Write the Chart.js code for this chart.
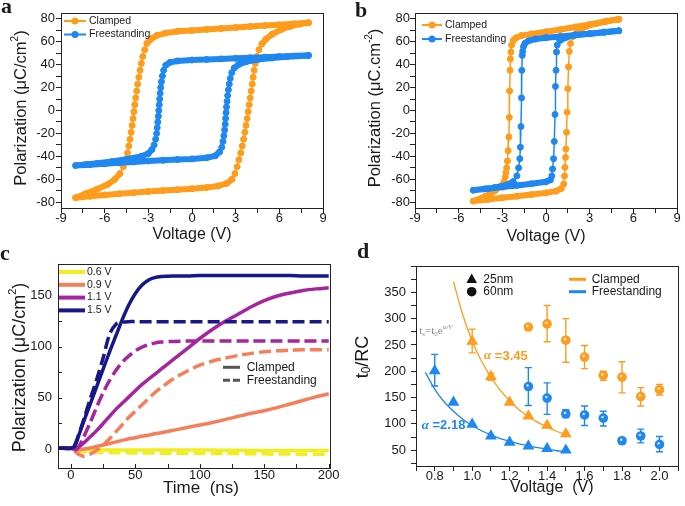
<!DOCTYPE html>
<html lang="en">
<head>
<meta charset="UTF-8">
<title>Clamped vs freestanding switching</title>
<script src="https://cdn.jsdelivr.net/npm/chart.js@4.4.1/dist/chart.umd.min.js"></script>
<style>
  body { margin:0; background:#fff; width:685px; height:506px; position:relative; overflow:hidden; }
  canvas { position:absolute; }
  .lab { position:absolute; font: bold 22px 'Liberation Serif', 'Times New Roman', serif; line-height:22px; color:#1a1a1a; }
</style>
</head>
<body>
<canvas id="ca" width="342" height="250" style="left:0;top:0"></canvas>
<canvas id="cb" width="343" height="250" style="left:342px;top:0"></canvas>
<canvas id="cc" width="342" height="256" style="left:0;top:250px"></canvas>
<canvas id="cd" width="343" height="256" style="left:342px;top:250px"></canvas>
<div class="lab" style="left:1px;top:-5px">a</div>
<div class="lab" style="left:355px;top:-1px">b</div>
<div class="lab" style="left:0px;top:242px">c</div>
<div class="lab" style="left:357px;top:240px">d</div>
<script>
// ---- panel a : P-V loops, 8 V sweep ----
var aClampV = [8,7,6,5,4,3,2,1,0,-1,-1.8,-2.4,-2.8,-3.1,-3.25,-3.38,-3.48,-3.57,-3.65,-3.73,-3.8,-3.87,-3.93,-3.99,-4.05,-4.11,-4.18,-4.26,-4.34,-4.43,-4.55,-4.72,-4.95,-5.3,-5.8,-6.5,-7.3,-8,
  -7,-6,-5,-4,-3,-2,-1,0,1,1.8,2.4,2.75,2.95,3.1,3.22,3.35,3.45,3.55,3.63,3.71,3.79,3.86,3.93,4.0,4.07,4.14,4.2,4.27,4.34,4.45,4.6,4.8,5.1,5.5,6.1,6.8,7.4,8];
var aClampP = [76.5,75.6,74.8,74,73.2,72.3,71.5,70.7,69.8,69,67.5,65.5,62.5,58.5,53,47,41,35,29,23,17,11,5,-1,-7,-13,-19,-25,-31,-37,-43,-49,-55,-60,-64.5,-68.5,-72.5,-76,
  -74.8,-73.6,-72.6,-71.6,-70.7,-69.8,-69,-68.2,-67.2,-65.8,-63.5,-60,-55,-49,-43,-37,-31,-25,-19,-13,-7,-1,5,11,17,23,29,35,41,47,53,58,62.5,66.5,70.5,73.5,75.3,76.5];
var aFreeV = [8,7,6,5,4,3,2,1,0,-1,-1.5,-1.8,-1.95,-2.03,-2.1,-2.15,-2.19,-2.22,-2.25,-2.28,-2.31,-2.35,-2.39,-2.43,-2.5,-2.6,-2.75,-3,-3.5,-4.5,-5.5,-6.5,-7.3,-8,
  -7,-6,-5,-4,-3,-2,-1,0,1,1.6,1.9,2.05,2.13,2.19,2.24,2.28,2.31,2.34,2.37,2.41,2.45,2.5,2.56,2.63,2.73,2.9,3.2,3.7,4.5,5.5,6.5,7.3,8];
var aFreeP = [48,47.5,47,46.5,46,45.5,45,44.5,44,43.2,42,39.5,35,30,25,20,15,10,5,0,-5,-10,-15,-20,-25,-30,-34,-37.5,-40,-42.5,-44.5,-46,-47,-48,
  -47.2,-46.4,-45.6,-44.8,-44,-43.4,-42.8,-42.2,-41.2,-39.5,-36,-32,-27,-22,-17,-12,-7,-2,3,8,13,18,23,28,33,37,40,42.5,44.5,45.8,46.8,47.5,48];

// ---- panel b : P-V loops, 5 V sweep ----
var bClampV = [5,4,3,2,1,0,-1,-1.7,-2.05,-2.25,-2.36,-2.41,-2.45,-2.47,-2.5,-2.52,-2.55,-2.6,-2.65,-2.7,-2.75,-2.8,-2.87,-3.1,-3.5,-4.2,-5,
  -4,-3,-2,-1,0,0.7,1.05,1.22,1.27,1.3,1.34,1.37,1.41,1.45,1.5,1.55,1.6,1.68,1.85,2.2,2.8,3.5,4.2,5];
var bClampP = [79.5,77.3,75,72.8,70.6,68.6,66.8,65.3,63.5,61,57,51,45,35,17,-6,-23,-35,-44,-50,-54,-58,-62,-66,-70,-75,-79,
  -77.5,-76,-74.7,-73.3,-71.8,-70.3,-68,-64,-57,-49.6,-41,-33.6,-19,-1.5,19,38,51.5,58.4,64.5,69.5,73.5,76,78,79.5];
var bFreeV = [5,4,3,2,1,0,-0.7,-1.2,-1.45,-1.55,-1.6,-1.63,-1.66,-1.68,-1.72,-1.76,-1.8,-1.88,-2,-2.25,-2.8,-3.5,-4.2,-5,
  -4,-3,-2,-1,0,0.3,0.4,0.45,0.52,0.57,0.62,0.65,0.69,0.72,0.77,0.95,1.4,2,3,4,5];
var bFreeP = [69.5,68.3,67,65.8,64.6,63.4,62.3,60.8,58.5,55.5,51.5,48,35,11,-14,-32,-42,-50,-57,-62,-65.3,-67,-68.3,-69.5,
  -68.2,-66.8,-65.3,-63.8,-62.2,-60.5,-57,-51,-42,-27,-3.5,21,35,51,57,61,63.8,65.8,67,68.3,69.5];
var abXTicks = [-9,-7.5,-6,-4.5,-3,-1.5,0,1.5,3,4.5,6,7.5,9];
var abYTicks = [-80,-70,-60,-50,-40,-30,-20,-10,0,10,20,30,40,50,60,70,80];

// ---- panel c : switching transients ----
var cTime = [-10,0,3,6,10,15,20,25,30,35,40,45,50,55,60,65,70,80,90,100,110,120,130,140,150,160,170,180,190,200];
var c15Clamped = [1,1,3,13,27,44,61,78,95,111,127,141,152,160,165,167.5,168.5,169,169,169.5,169.5,169.5,169.5,169.5,169.5,169.5,169.5,169,169,169];
var c15Free    = [1,1,4,14,29,49,68,89,112,122,124,124.5,124.5,124.5,124.5,124.5,124.5,124.5,124.5,124.5,124.5,124.5,124.5,124.5,124.5,124.5,124.5,124.5,124.5,124.5];
var c11Clamped = [1,0.5,0,2,6,12,18,25,32,39,45,51,57,63,68,73,78,88,98,108,117,125,132,139,145,149.5,152.5,155,156.5,157.5];
var c11Free    = [1,0.5,-1,2,12,26,41,55,67,77,85,91,96,99.5,102,103.5,104.5,105.2,105.5,105.5,105.5,105.5,105.5,105.5,105.5,105.5,105.5,105.5,105.5,105.5];
var c09Clamped = [1,0.5,0,-0.5,0,1,2.5,4,5.5,7,8.5,10,11,12.5,13.5,15,16,18.5,21,23.5,26,29,32,35,37.5,40.5,44,47.5,51,54];
var c09Free    = [1,0.5,-2,-5,-7,-5,-1,4,10,17,24,31,37,43,49,55,60,69,76,82,86,89,91.5,93.5,95,96,96.5,97,97,97];
var c06Clamped = [1,1,0,-0.5,-1,-1,-1,-1,-1,-1,-1,-1,-1,-1,-1,-1,-1,-1,-1,-1,-1,-1.2,-1.2,-1.3,-1.3,-1.4,-1.5,-1.5,-1.5,-1.5];
var c06Free    = [1,0.5,-1,-2,-2.5,-3,-3,-3.2,-3.4,-3.5,-3.6,-3.7,-3.8,-3.8,-3.9,-3.9,-4,-4,-4.1,-4.2,-4.3,-4.4,-4.5,-4.6,-4.7,-4.8,-4.9,-5,-5.1,-5.2];
var cLabels = ['0.6 V', '0.9 V', '1.1 V', '1.5 V'];
var cXTicks = [0,25,50,75,100,125,150,175,200];
var cYTicks = [0,25,50,75,100,125,150,175];

// ---- panel d : t0/RC vs voltage ----
var dClamp25V = [1.0,1.1,1.2,1.3,1.4,1.5];
var dClamp25  = [257,190,141,115,97,81];
var dClamp25Lo = [235,183,null,null,null,null];
var dClamp25Hi = [280,196,null,null,null,null];
var dFree25V = [0.8,0.9,1.0,1.1,1.2,1.3,1.4,1.5];
var dFree25  = [201,141,99,77,65,58,53,50];
var dFree25Lo = [172,null,null,null,null,null,null,null];
var dFree25Hi = [232,null,null,null,null,null,null,null];
var d60V = [1.3,1.4,1.5,1.6,1.7,1.8,1.9,2.0];
var dClamp60   = [284,290,259,227,192,189,152,165];
var dClamp60Lo = [null,256,217,205,183,159,134,155];
var dClamp60Hi = [null,325,300,249,200,218,169,175];
var dFree60    = [171,149,119,117,111,68,77,61];
var dFree60Lo  = [135,118,112,97,96,null,64,47];
var dFree60Hi  = [207,178,127,134,124,null,90,76];
var dFitClampV = [0.9,0.95,1.0,1.05,1.1,1.15,1.2,1.25,1.3,1.35,1.4,1.45,1.5];
var dFitClamp  = [370,307,257,219,189,164,144,127,114,103,94,86,80];
var dFitFreeV  = [0.75,0.8,0.85,0.9,0.95,1.0,1.05,1.1,1.15,1.2,1.25,1.3,1.35,1.4,1.45,1.5];
var dFitFree   = [198,166,142,124,109,97,87,79,72,67,62,58,55,52,49,47];
var dXTicks = [0.7,0.8,0.9,1.0,1.1,1.2,1.3,1.4,1.5,1.6,1.7,1.8,1.9,2.0,2.1];
var dYTicks = [25,50,75,100,125,150,175,200,225,250,275,300,325,350,375,400];

var ORANGE = '#ff9c1c', BLUE = '#1e88f0';
var YEL = '#eeee22', CORAL = '#f47f5a', PURP = '#a6259f', NAVY = '#17178a';
var SANS = "'Liberation Sans', Arial, sans-serif";
var SERIF = "'Liberation Serif', 'Times New Roman', serif";
var INK = '#1a1a1a';

Chart.defaults.font.family = SANS;
Chart.defaults.color = INK;
Chart.defaults.animation = false;
Chart.defaults.responsive = false;
Chart.defaults.plugins.legend.display = false;
Chart.defaults.plugins.tooltip.enabled = false;

// box round the plot area
Chart.register({
  id: 'frame',
  afterDatasetsDraw: function(chart) {
    var a = chart.chartArea, c = chart.ctx;
    c.save();
    c.strokeStyle = '#222'; c.lineWidth = 1;
    c.strokeRect(Math.round(a.left) + 0.5, Math.round(a.top) + 0.5, Math.round(a.right - a.left), Math.round(a.bottom - a.top));
    c.restore();
  }
});

function pts(xs, ys) { return xs.map(function(x, i) { return {x: x, y: ys[i]}; }); }

// text made of pieces (sub / superscripts), centred or left aligned, optionally turned 90deg
function rich(c, parts, x, y, rot, left, color) {
  c.save();
  c.translate(x, y);
  if (rot) c.rotate(-Math.PI / 2);
  c.fillStyle = color || INK;
  c.textBaseline = 'middle';
  var w = 0;
  parts.forEach(function(p) { c.font = p[1]; w += c.measureText(p[0]).width; });
  var cx = left ? 0 : -w / 2;
  parts.forEach(function(p) { c.font = p[1]; c.fillText(p[0], cx, p[2] || 0); cx += c.measureText(p[0]).width; });
  c.restore();
}

// o: {min, max, ticks, major, fmt, size, pad, inward}
function axis(o) {
  return {
    type: 'linear', min: o.min, max: o.max,
    border: { display: false },
    grid: { drawOnChartArea: false, drawTicks: !o.inward, tickLength: 5, tickColor: '#222', tickWidth: 1 },
    ticks: { autoSkip: false, maxRotation: 0, padding: o.pad, font: { size: 13 }, color: INK,
             callback: function(v) { return o.major(v) ? o.fmt(v) : ''; } },
    afterBuildTicks: function(s) { s.ticks = o.ticks.map(function(v) { return {value: v}; }); },
    afterFit: function(s) { if (s.isHorizontal()) s.height = o.size; else s.width = o.size; }
  };
}
function every(n) { return function(v) { return Math.abs(Math.round(v / n) * n - v) < 1e-6; }; }
function plain(v) { return String(Math.round(v * 100) / 100); }

function loopSet(V, P, color) {
  return {
    data: pts(V, P), showLine: true,
    borderColor: color, backgroundColor: color,
    pointRadius: 3, pointBorderWidth: 1, pointBorderColor: color, pointBackgroundColor: color,
    borderWidth: 6, borderJoinStyle: 'round', borderCapStyle: 'round',
    segment: { borderWidth: function(s) {
      var dx = Math.abs(s.p1.x - s.p0.x), dy = Math.abs(s.p1.y - s.p0.y);
      return dy > 1.5 * dx ? 1.5 : 6;
    } }
  };
}

function loopLegend(c, x0, x1, y, color, label) {
  c.save();
  c.strokeStyle = color; c.lineWidth = 2;
  c.beginPath(); c.moveTo(x0, y); c.lineTo(x1, y); c.stroke();
  c.fillStyle = color;
  c.beginPath(); c.arc((x0 + x1) / 2, y, 3.5, 0, 2 * Math.PI); c.fill();
  c.fillStyle = INK; c.font = '10.5px ' + SANS; c.textBaseline = 'middle';
  c.fillText(label, x1 + 3, y);
  c.restore();
}

function loopChart(id, cv, cp, fv, fp, yw, ypad, rightPad, deco) {
  return new Chart(document.getElementById(id), {
    type: 'scatter',
    data: { datasets: [loopSet(fv, fp, BLUE), loopSet(cv, cp, ORANGE)] },
    options: {
      layout: { padding: { left: 0, top: 13, right: rightPad, bottom: 0 } },
      scales: {
        x: axis({min: -9, max: 9, ticks: abXTicks, major: every(3), fmt: plain, size: 42, pad: -2}),
        y: axis({min: -85, max: 85, ticks: abYTicks, major: every(20), fmt: plain, size: yw, pad: ypad})
      }
    },
    plugins: [{ id: 'deco' + id, afterDraw: deco }]
  });
}

// ---------- a ----------
loopChart('ca', aClampV, aClampP, aFreeV, aFreeP, 61, 1, 19, function(chart) {
  var c = chart.ctx;
  rich(c, [['Polarization (\u03bcC/cm', '16.5px ' + SANS, 0], ['2', '10px ' + SANS, -6], [')', '16.5px ' + SANS, 0]], 21, 108, true);
  rich(c, [['Voltage (V)', '16px ' + SANS, 0]], 192, 235);
  loopLegend(c, 64, 86, 21, ORANGE, 'Clamped');
  loopLegend(c, 64, 86, 34.5, BLUE, 'Freestanding');
});

// ---------- b ----------
loopChart('cb', bClampV, bClampP, bFreeV, bFreeP, 73, 0, 8, function(chart) {
  var c = chart.ctx;
  rich(c, [['Polarization (\u03bcC.cm', '16.5px ' + SANS, 0], ['-2', '10px ' + SANS, -6], [')', '16.5px ' + SANS, 0]], 33, 108, true);
  rich(c, [['Voltage (V)', '16px ' + SANS, 0]], 204, 237);
  loopLegend(c, 80, 100, 25, ORANGE, 'Clamped');
  loopLegend(c, 80, 100, 39, BLUE, 'Freestanding');
});

// ---------- c ----------
function trace(ys, color, dashed) {
  return { data: pts(cTime, ys), showLine: true, borderColor: color, backgroundColor: color,
           borderWidth: 3.5, pointRadius: 0, tension: 0.3, borderDash: dashed ? [12, 5] : [] };
}
new Chart(document.getElementById('cc'), {
  type: 'scatter',
  data: { datasets: [
    trace(c15Clamped, NAVY, false), trace(c15Free, NAVY, true),
    trace(c11Clamped, PURP, false), trace(c11Free, PURP, true),
    trace(c09Clamped, CORAL, false), trace(c09Free, CORAL, true),
    trace(c06Clamped, YEL, false), trace(c06Free, YEL, true)
  ] },
  options: {
    layout: { padding: { left: 0, top: 13, right: 12, bottom: 0 } },
    scales: {
      x: axis({min: -10, max: 201, ticks: cXTicks, major: every(50), fmt: plain, size: 38, pad: 0, inward: true}),
      y: axis({min: -18.5, max: 181, ticks: cYTicks, major: every(50), fmt: plain, size: 58, pad: 6, inward: true})
    }
  },
  plugins: [{ id: 'decoC', afterDraw: function(chart) {
    var c = chart.ctx, a = chart.chartArea, xs = chart.scales.x, ys = chart.scales.y;
    c.save();
    // ticks pointing into the plot
    c.strokeStyle = '#222'; c.lineWidth = 1;
    c.beginPath();
    cXTicks.forEach(function(v) { var x = Math.round(xs.getPixelForValue(v)) + 0.5; c.moveTo(x, a.bottom); c.lineTo(x, a.bottom - 4); });
    cYTicks.forEach(function(v) { var y = Math.round(ys.getPixelForValue(v)) + 0.5; c.moveTo(a.left, y); c.lineTo(a.left + 4, y); });
    c.stroke();
    c.restore();
    rich(c, [['Polarization (\u03bcC/cm', '18px ' + SANS, 0], ['2', '11px ' + SANS, -7], [')', '18px ' + SANS, 0]], 20, 117.5, true);
    rich(c, [['Time  (ns)', '17px ' + SANS, 0]], 201, 238);
    var cols = [YEL, CORAL, PURP, NAVY];
    c.save();
    cols.forEach(function(col, i) {
      var y = 22 + i * 12.8;
      c.strokeStyle = col; c.lineWidth = 4; c.setLineDash([]);
      c.beginPath(); c.moveTo(59, y); c.lineTo(85, y); c.stroke();
      c.fillStyle = INK; c.font = '10.5px ' + SANS; c.textBaseline = 'middle';
      c.fillText(cLabels[i], 87, y);
    });
    c.strokeStyle = '#555'; c.lineWidth = 3;
    c.beginPath(); c.moveTo(223, 117.3); c.lineTo(240, 117.3); c.stroke();
    c.setLineDash([7, 3]);
    c.beginPath(); c.moveTo(223, 130.3); c.lineTo(240, 130.3); c.stroke();
    c.setLineDash([]);
    c.fillStyle = INK; c.font = '12px ' + SANS;
    c.fillText('Clamped', 246.7, 117.3);
    c.fillText('Freestanding', 246.7, 130.3);
    c.restore();
  } }]
});

// ---------- d ----------
function marks(xs, ys, color, style, r, lo, hi) {
  return { data: pts(xs, ys), backgroundColor: color, borderColor: color, pointStyle: style,
           pointRadius: r, pointBorderWidth: 0, errLo: lo, errHi: hi, shine: style === 'circle' };
}
function fit(xs, ys, color) {
  return { data: pts(xs, ys), showLine: true, borderColor: color, borderWidth: 1.3, pointRadius: 0, tension: 0.35 };
}
new Chart(document.getElementById('cd'), {
  type: 'scatter',
  data: { datasets: [
    marks(dClamp25V, dClamp25, ORANGE, 'triangle', 6.8, dClamp25Lo, dClamp25Hi),
    marks(dFree25V, dFree25, BLUE, 'triangle', 6.8, dFree25Lo, dFree25Hi),
    marks(d60V, dClamp60, ORANGE, 'circle', 4.8, dClamp60Lo, dClamp60Hi),
    marks(d60V, dFree60, BLUE, 'circle', 4.8, dFree60Lo, dFree60Hi),
    fit(dFitClampV, dFitClamp, ORANGE),
    fit(dFitFreeV, dFitFree, BLUE)
  ] },
  options: {
    layout: { padding: { left: 0, top: 16, right: 2, bottom: 0 } },
    scales: {
      x: axis({min: 0.7, max: 2.1, ticks: dXTicks, size: 40, pad: -2,
               major: function(v) { var k = Math.round(v * 10); return k % 2 === 0 && k >= 8 && k <= 20; },
               fmt: function(v) { return v.toFixed(1); }}),
      y: axis({min: 20, max: 400, ticks: dYTicks, size: 74, pad: 5, fmt: plain,
               major: function(v) { return every(50)(v) && v >= 50 && v <= 350; }})
    }
  },
  plugins: [{ id: 'decoD',
    beforeDatasetsDraw: function(chart) {
      var c = chart.ctx, xs = chart.scales.x, ys = chart.scales.y;
      c.save(); c.lineWidth = 1.4;
      chart.data.datasets.forEach(function(ds) {
        if (!ds.errLo) return;
        c.strokeStyle = ds.borderColor;
        ds.data.forEach(function(p, i) {
          if (ds.errLo[i] == null) return;
          var x = xs.getPixelForValue(p.x), y1 = ys.getPixelForValue(ds.errLo[i]), y2 = ys.getPixelForValue(ds.errHi[i]);
          c.beginPath();
          c.moveTo(x, y1); c.lineTo(x, y2);
          c.moveTo(x - 3.5, y1); c.lineTo(x + 3.5, y1);
          c.moveTo(x - 3.5, y2); c.lineTo(x + 3.5, y2);
          c.stroke();
        });
      });
      c.restore();
    },
    afterDatasetsDraw: function(chart) {
      // small light spot on the round markers
      var c = chart.ctx;
      c.save(); c.fillStyle = 'rgba(255,255,255,0.85)';
      chart.data.datasets.forEach(function(ds, k) {
        if (!ds.shine) return;
        chart.getDatasetMeta(k).data.forEach(function(el) {
          c.beginPath(); c.arc(el.x - 0.8, el.y - 1, 1.2, 0, 2 * Math.PI); c.fill();
        });
      });
      c.restore();
    },
    afterDraw: function(chart) {
      var c = chart.ctx;
      rich(c, [['t', '18px ' + SANS, 0], ['0', '12px ' + SANS, 4], ['/RC', '18px ' + SANS, 0]], 21, 107, true);
      rich(c, [['Voltage  (V)', '16px ' + SANS, 0]], 209.7, 238);
      c.save();
      c.fillStyle = '#111';
      c.beginPath(); c.moveTo(129.7, 23.5); c.lineTo(135, 33); c.lineTo(124.4, 33); c.closePath(); c.fill();
      c.beginPath(); c.arc(129.7, 41.7, 4.8, 0, 2 * Math.PI); c.fill();
      c.font = '12px ' + SANS; c.textBaseline = 'middle'; c.fillStyle = INK;
      c.fillText('25nm', 141.3, 29.3);
      c.fillText('60nm', 141.3, 41.7);
      c.lineWidth = 3;
      c.strokeStyle = ORANGE; c.beginPath(); c.moveTo(227, 29.3); c.lineTo(244, 29.3); c.stroke();
      c.strokeStyle = BLUE; c.beginPath(); c.moveTo(227, 41.7); c.lineTo(244, 41.7); c.stroke();
      c.fillText('Clamped', 249.7, 29.3);
      c.fillText('Freestanding', 249.7, 41.7);
      c.restore();
      rich(c, [['t', '11px ' + SERIF, 0], ['s', '7px ' + SERIF, 3], ['=t', '11px ' + SERIF, 0], ['0', '7px ' + SERIF, 3],
               ['e', '11px ' + SERIF, 0], ['\u03b1/V', 'italic 7px ' + SERIF, -4]], 77.3, 81, false, true, '#8a8a8a');
      rich(c, [['\u03b1', 'bold italic 13px ' + SERIF, 0], [' =3.45', 'bold 13px ' + SANS, 0]], 142, 106, false, true, ORANGE);
      rich(c, [['\u03b1', 'bold italic 13px ' + SERIF, 0], [' =2.18', 'bold 13px ' + SANS, 0]], 79.7, 175.7, false, true, BLUE);
    }
  }]
});
</script>
</body>
</html>
